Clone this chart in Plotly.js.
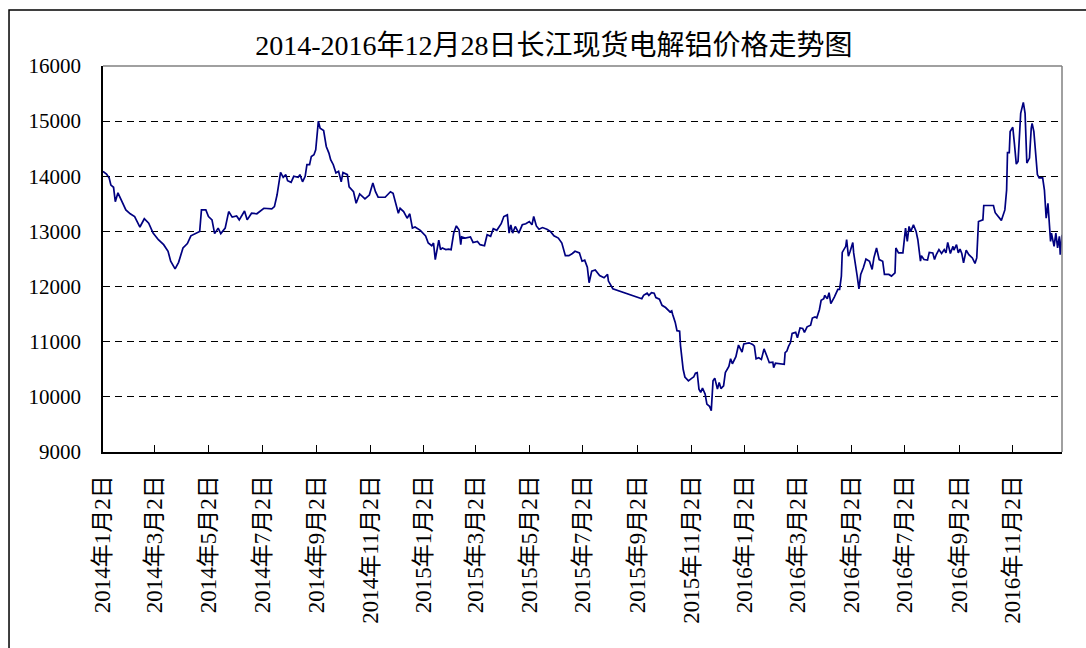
<!DOCTYPE html>
<html>
<head>
<meta charset="utf-8">
<script src="https://cdn.plot.ly/plotly-3.0.1.min.js"></script>
<style>
  html, body { margin: 0; padding: 0; background: #fff; }
  #chart { width: 1086px; height: 648px; }
</style>
</head>
<body>
<div id="chart"></div>
<script>
// ===================== DATA =====================
// Daily spot price of electrolytic aluminium (Changjiang)

const chartTitle = '2014-2016年12月28日长江现货电解铝价格走势图';

const dates = [
  '2014-01-02','2014-01-06','2014-01-09','2014-01-11','2014-01-14','2014-01-16','2014-01-19','2014-01-23','2014-01-28','2014-02-02',
  '2014-02-07','2014-02-13','2014-02-18','2014-02-23','2014-02-28','2014-03-06','2014-03-12','2014-03-17','2014-03-20','2014-03-25',
  '2014-03-29','2014-04-03','2014-04-08','2014-04-12','2014-04-19','2014-04-22','2014-04-24','2014-04-29','2014-05-02','2014-05-06',
  '2014-05-09','2014-05-13','2014-05-16','2014-05-21','2014-05-25','2014-05-29','2014-06-03','2014-06-06','2014-06-12','2014-06-15',
  '2014-06-20','2014-06-26','2014-07-04','2014-07-11','2014-07-13','2014-07-16','2014-07-19','2014-07-23','2014-07-26','2014-07-29',
  '2014-07-31','2014-08-04','2014-08-07','2014-08-12','2014-08-14','2014-08-17','2014-08-20','2014-08-22','2014-08-25','2014-08-27',
  '2014-08-30','2014-09-01','2014-09-03','2014-09-04','2014-09-06','2014-09-10','2014-09-13','2014-09-16','2014-09-18','2014-09-21',
  '2014-09-24','2014-09-27','2014-09-30','2014-10-02','2014-10-07','2014-10-09','2014-10-14','2014-10-17','2014-10-21','2014-10-27',
  '2014-11-01','2014-11-05','2014-11-08','2014-11-11','2014-11-19','2014-11-25','2014-11-28','2014-12-02','2014-12-04','2014-12-06',
  '2014-12-10','2014-12-14','2014-12-17','2014-12-20','2014-12-23','2014-12-29','2015-01-04','2015-01-07','2015-01-11','2015-01-13',
  '2015-01-15','2015-01-19','2015-01-21','2015-01-23','2015-01-27','2015-01-30','2015-02-02','2015-02-05','2015-02-08','2015-02-11',
  '2015-02-13','2015-02-14','2015-02-18','2015-02-24','2015-02-27','2015-03-04','2015-03-07','2015-03-12','2015-03-15','2015-03-19',
  '2015-03-22','2015-03-26','2015-03-31','2015-04-03','2015-04-07','2015-04-09','2015-04-11','2015-04-13','2015-04-16','2015-04-20',
  '2015-04-24','2015-04-28','2015-05-02','2015-05-05','2015-05-07','2015-05-10','2015-05-13','2015-05-17','2015-05-22','2015-05-26',
  '2015-05-30','2015-06-04','2015-06-08','2015-06-12','2015-06-16','2015-06-20','2015-06-23','2015-06-28','2015-07-01','2015-07-04',
  '2015-07-07','2015-07-09','2015-07-12','2015-07-16','2015-07-21','2015-07-26','2015-07-30','2015-07-31','2015-08-05','2015-09-07',
  '2015-09-09','2015-09-13','2015-09-15','2015-09-18','2015-09-21','2015-09-23','2015-09-27','2015-09-30','2015-10-04','2015-10-09',
  '2015-10-11','2015-10-12','2015-10-15','2015-10-17','2015-10-20','2015-10-21','2015-10-24','2015-10-26','2015-10-30','2015-11-03',
  '2015-11-05','2015-11-07','2015-11-09','2015-11-11','2015-11-13','2015-11-15','2015-11-18','2015-11-20','2015-11-23','2015-11-25',
  '2015-11-27','2015-11-29','2015-12-02','2015-12-04','2015-12-06','2015-12-09','2015-12-11','2015-12-15','2015-12-17','2015-12-19',
  '2015-12-23','2015-12-26','2015-12-30','2016-01-01','2016-01-04','2016-01-07','2016-01-11','2016-01-13','2016-01-15','2016-01-18',
  '2016-01-21','2016-01-24','2016-01-27','2016-01-30','2016-02-03','2016-02-04','2016-02-06','2016-02-16','2016-02-17','2016-02-19',
  '2016-02-21','2016-02-23','2016-02-25','2016-02-29','2016-03-02','2016-03-05','2016-03-08','2016-03-10','2016-03-13','2016-03-17',
  '2016-03-19','2016-03-22','2016-03-24','2016-03-27','2016-03-29','2016-04-01','2016-04-02','2016-04-05','2016-04-07','2016-04-09',
  '2016-04-13','2016-04-15','2016-04-17','2016-04-19','2016-04-21','2016-04-22','2016-04-26','2016-04-27','2016-04-29','2016-05-01',
  '2016-05-04','2016-05-05','2016-05-07','2016-05-09','2016-05-11','2016-05-13','2016-05-16','2016-05-19','2016-05-23','2016-05-26',
  '2016-05-28','2016-05-31','2016-06-03','2016-06-07','2016-06-09','2016-06-14','2016-06-17','2016-06-21','2016-06-22','2016-06-25',
  '2016-06-30','2016-07-01','2016-07-03','2016-07-05','2016-07-07','2016-07-09','2016-07-12','2016-07-15','2016-07-17','2016-07-20',
  '2016-07-21','2016-07-24','2016-07-28','2016-07-30','2016-08-03','2016-08-05','2016-08-07','2016-08-10','2016-08-13','2016-08-16',
  '2016-08-18','2016-08-20','2016-08-23','2016-08-26','2016-08-27','2016-08-30','2016-09-01','2016-09-03','2016-09-05','2016-09-07',
  '2016-09-10','2016-09-13','2016-09-17','2016-09-20','2016-09-22','2016-09-24','2016-09-29','2016-09-30','2016-10-11','2016-10-13',
  '2016-10-16','2016-10-20','2016-10-24','2016-10-26','2016-10-27','2016-10-29','2016-10-30','2016-11-02','2016-11-04','2016-11-06',
  '2016-11-08','2016-11-11','2016-11-14','2016-11-16','2016-11-18','2016-11-21','2016-11-23','2016-11-24','2016-11-26','2016-11-27',
  '2016-11-30','2016-12-02','2016-12-06','2016-12-08','2016-12-10','2016-12-12','2016-12-15','2016-12-16','2016-12-19','2016-12-21',
  '2016-12-23','2016-12-25','2016-12-26','2016-12-28'
];

const prices = [
  14090,14040,13970,13840,13800,13540,13700,13570,13390,13320,
  13270,13080,13230,13150,12970,12850,12760,12640,12460,12320,
  12440,12700,12780,12920,12970,13000,13390,13390,13270,13210,
  12960,13060,12960,13060,13360,13260,13280,13210,13370,13210,
  13330,13320,13420,13405,13410,13450,13660,14070,13980,14030,
  13920,13890,14000,13980,14030,13900,14000,14210,14210,14360,
  14390,14480,14960,15000,14870,14830,14540,14420,14300,14210,
  14060,14090,13900,14070,14030,13810,13720,13510,13680,13590,
  13660,13880,13720,13620,13620,13720,13690,13480,13330,13420,
  13360,13240,13320,13060,13080,13020,12920,12790,12740,12790,
  12490,12840,12670,12700,12670,12680,12670,12970,13100,13030,
  12760,12900,12880,12900,12800,12820,12760,12740,12940,12910,
  13050,13020,13140,13270,13300,12970,13120,12970,13090,12970,
  13120,13140,13180,13120,13270,13100,13040,13070,13040,13000,
  12920,12880,12790,12560,12560,12600,12640,12610,12460,12480,
  12350,12070,12280,12300,12200,12160,12220,12100,11960,11780,
  11840,11880,11840,11890,11880,11800,11770,11660,11620,11540,
  11560,11500,11350,11200,11190,10930,10500,10360,10290,10340,
  10360,10430,10440,10140,10080,10160,10050,9870,9830,9750,
  10290,10340,10140,10260,10150,10200,10440,10550,10690,10600,
  10730,10940,10810,10960,10970,10980,10950,10920,10690,10710,
  10680,10870,10750,10620,10630,10530,10610,10590,10800,10830,
  10920,10980,11150,11170,11070,11250,11240,11170,11270,11300,
  11430,11450,11430,11580,11750,11780,11840,11780,11890,11690,
  11810,11900,11950,11950,12190,12620,12730,12850,12550,12640,
  12800,12610,12430,12190,11960,12220,12340,12500,12460,12310,
  12520,12700,12490,12460,12220,12220,12190,12250,12700,12610,
  12610,12800,13060,12820,13090,13000,13120,13000,12850,12460,
  12560,12490,12480,12620,12610,12490,12580,12670,12600,12670,
  12610,12800,12600,12730,12660,12760,12610,12680,12600,12430,
  12660,12580,12520,12420,12520,13180,13210,13470,13470,13340,
  13280,13200,13390,13750,14430,14430,14810,14890,14570,14220,
  14270,15140,15340,15140,14240,14330,14870,14960,14810,14630,
  14030,13970,13970,13750,13240,13510,12820,12970,12730,12970,
  12700,12910,12580,12940
];

// Category axis ticks every two months
const tickDates = [
  '2014-01-02','2014-03-02','2014-05-02','2014-07-02','2014-09-02','2014-11-02',
  '2015-01-02','2015-03-02','2015-05-02','2015-07-02','2015-09-02','2015-11-02',
  '2016-01-02','2016-03-02','2016-05-02','2016-07-02','2016-09-02','2016-11-02'
];
const tickLabels = [
  '2014年1月2日','2014年3月2日','2014年5月2日','2014年7月2日','2014年9月2日','2014年11月2日',
  '2015年1月2日','2015年3月2日','2015年5月2日','2015年7月2日','2015年9月2日','2015年11月2日',
  '2016年1月2日','2016年3月2日','2016年5月2日','2016年7月2日','2016年9月2日','2016年11月2日'
];

// ===================== CHART =====================
const FONT = 'Liberation Serif, Noto Sans CJK SC, serif';

const priceTrace = {
  x: dates,
  y: prices,
  type: 'scatter',
  mode: 'lines',
  line: { color: '#000080', width: 1.7 },
  hoverinfo: 'x+y'
};

const layout = {
  width: 1086,
  height: 648,
  margin: { l: 103, r: 24, t: 66, b: 196 },
  paper_bgcolor: '#fff',
  plot_bgcolor: '#fff',
  showlegend: false,
  font: { family: FONT, size: 21, color: '#000' },
  title: {
    text: chartTitle,
    font: { family: FONT, size: 28, color: '#000' },
    x: 0.51, xanchor: 'center',
    y: 0.93, yanchor: 'middle'
  },
  xaxis: {
    type: 'date',
    range: [dates[0], dates[dates.length - 1]],
    tickmode: 'array',
    tickvals: tickDates,
    ticktext: tickLabels,
    tickangle: -90,
    ticks: 'inside',
    ticklen: 7,
    tickcolor: '#000',
    tickfont: { family: FONT, size: 23 },
    ticklabelstandoff: 12,
    showline: true,
    linecolor: '#000',
    linewidth: 2,
    showgrid: false,
    zeroline: false
  },
  yaxis: {
    range: [9000, 16000],
    dtick: 1000,
    tickformat: 'd',
    ticksuffix: '\u00a0\u00a0\u00a0',   // gap between labels and axis
    ticks: 'inside',
    ticklen: 5,
    tickcolor: '#000',
    tickfont: { family: FONT, size: 21 },
    showline: true,
    linecolor: '#000',
    linewidth: 2,
    showgrid: true,
    gridcolor: '#000',
    gridwidth: 1,
    griddash: '7px,5px',
    zeroline: false
  },
  shapes: [
    // grey top / right border of plot area
    { type: 'line', xref: 'paper', yref: 'paper', x0: 0, x1: 1, y0: 1, y1: 1,
      line: { color: '#808080', width: 1.5 }, layer: 'above' },
    { type: 'line', xref: 'paper', yref: 'paper', x0: 1, x1: 1, y0: 0, y1: 1,
      line: { color: '#808080', width: 1.5 }, layer: 'above' },
    // outer chart frame
    { type: 'rect', xref: 'paper', yref: 'paper', x0: -0.098, x1: 1.2, y0: -0.6, y1: 1.145,
      line: { color: '#000', width: 1.5 }, layer: 'below' }
  ]
};

Plotly.newPlot('chart', [priceTrace], layout, { displayModeBar: false, staticPlot: true });
</script>
</body>
</html>
